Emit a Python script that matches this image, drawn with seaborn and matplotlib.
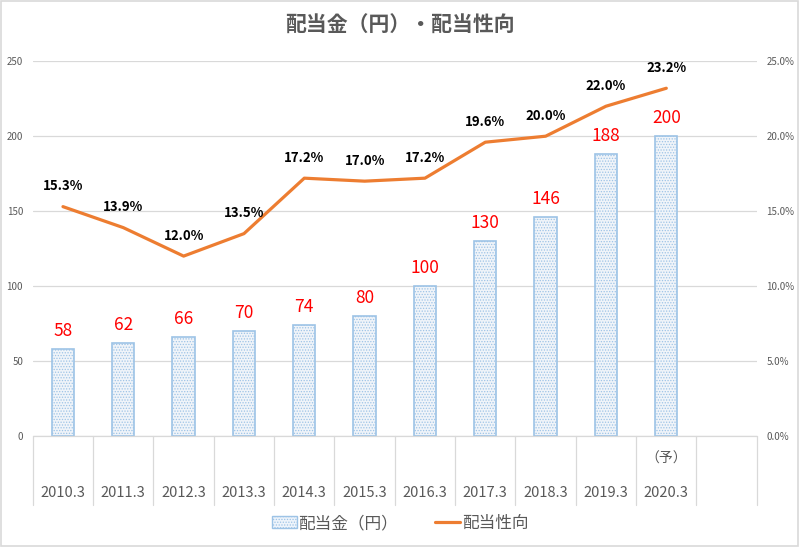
import numpy as np
import pandas as pd
import matplotlib
matplotlib.use("Agg")
import matplotlib.pyplot as plt
import seaborn as sns
from matplotlib.patches import Patch, Rectangle
from matplotlib.lines import Line2D

years = ["2010.3", "2011.3", "2012.3", "2013.3", "2014.3", "2015.3",
         "2016.3", "2017.3", "2018.3", "2019.3", "2020.3"]
dividend = [58, 62, 66, 70, 74, 80, 100, 130, 146, 188, 200]
payout = [15.3, 13.9, 12.0, 13.5, 17.2, 17.0, 17.2, 19.6, 20.0, 22.0, 23.2]

sns.set_style("white")
plt.rcParams['font.family'] = ['Noto Sans CJK JP', 'DejaVu Sans']
plt.rcParams['hatch.linewidth'] = 0.6

grey = "#595959"
blue_edge = "#9dc3e6"
orange = "#ed7d31"

fig = plt.figure(figsize=(8, 5.47), dpi=100)
ax = fig.add_axes([0.041, 0.203, 0.905, 0.685])

df = pd.DataFrame({"year": years, "dividend": dividend})
sns.barplot(data=df, x="year", y="dividend", ax=ax, width=0.37,
            color="#eef4fb", edgecolor="#5b9bd5", linewidth=0)
for p in ax.patches:
    p.set_hatch("......")
    p.set_edgecolor(blue_edge)
    p.set_linewidth(1.2)

ax.set_xlim(-0.5, 11.5)
ax.set_ylim(0, 250)
ax.set_yticks(range(0, 251, 50))
ax.grid(axis="y", color="#d9d9d9", linewidth=0.9)
ax.set_axisbelow(True)
for s in ax.spines.values():
    s.set_visible(False)
ax.set_xlabel("")
ax.set_ylabel("")
ax.tick_params(axis="y", length=0, labelsize=7, labelcolor=grey, pad=7)
ax.set_xticks([])

for i, v in enumerate(dividend):
    ax.text(i, v + 6, str(v), ha="center", va="bottom", color="#ff0000", fontsize=12.5)

# category boxes below the axis
for b in np.arange(-0.5, 12.0, 1.0):
    ax.plot([b, b], [0, -46], color="#d9d9d9", linewidth=0.9, clip_on=False)
ax.plot([-0.5, 11.5], [0, 0], color="#d9d9d9", linewidth=0.9, clip_on=False)
for i, y in enumerate(years):
    ax.text(i, -38, y, ha="center", va="center", color=grey, fontsize=10.5)
ax.text(10, -15, "（予）", ha="center", va="center", color=grey, fontsize=10)

ax2 = ax.twinx()
sns.lineplot(x=np.arange(len(payout)), y=payout, ax=ax2, color=orange,
             linewidth=2.3, sort=False)
ax2.set_ylim(0, 25)
ax2.set_yticks(np.arange(0, 25.1, 5))
ax2.set_yticklabels([f"{t:.1f}%" for t in np.arange(0, 25.1, 5)])
ax2.tick_params(axis="y", length=0, labelsize=7, labelcolor=grey, pad=7)
for s in ax2.spines.values():
    s.set_visible(False)
for i, v in enumerate(payout):
    ax2.text(i, v + 0.9, f"{v:.1f}%", ha="center", va="bottom",
             color="black", fontsize=9.5, fontweight="bold")

fig.suptitle("配当金（円）・配当性向", x=0.5, y=0.972, fontsize=15,
             fontweight="bold", color=grey)

handles = [Patch(facecolor="#eef4fb", edgecolor=blue_edge, hatch="......"),
           Line2D([0], [0], color=orange, linewidth=2.3)]
fig.legend(handles, ["配当金（円）", "配当性向"], loc="center",
           bbox_to_anchor=(0.5, 0.043), ncol=2, frameon=False,
           fontsize=12, labelcolor=grey, handlelength=1.5,
           handletextpad=0.1, columnspacing=2.2)

fig.patches.append(Rectangle((0.001, 0.001), 0.997, 0.997, transform=fig.transFigure,
                             fill=False, edgecolor="#d9d9d9", linewidth=1.2))

fig.savefig("out.png", dpi=100)
